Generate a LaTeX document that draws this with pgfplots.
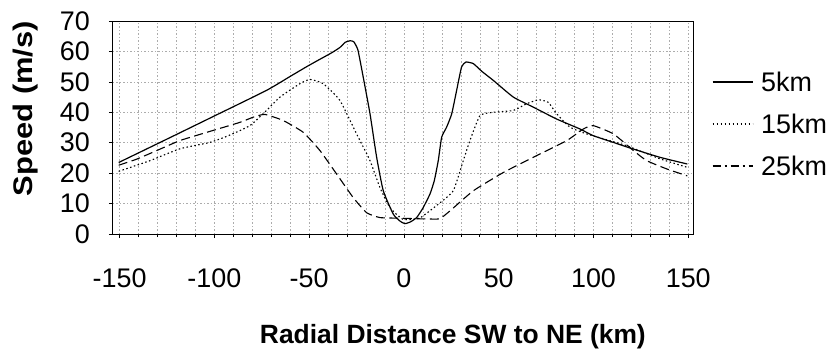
\documentclass[border=0pt]{standalone}
\usepackage{fontspec}
\setmainfont{Liberation Sans}
\usepackage{pgfplots}
\pgfplotsset{compat=1.18}
\usepackage{pgfplotstable}
\pgfplotstableread{
x y
-150.5 23.5
-125 31.2
-100 38.8
-72.5 47.2
-60 51.8
-51.3 55
-45 57.2
-38 59.6
-33.8 61.3
-31 63
-28.5 63.5
-26.5 63.2
-24.3 60.5
-21.5 51.6
-17.9 39.5
-14.4 25.2
-10.9 14.2
-5.6 6.5
-2 4.2
0.5 3.4
3.5 4
6.7 5.4
10 8.5
13.7 13.1
16 17.5
18.1 24.1
19.9 31.8
22.5 35.1
25.2 39.5
27.8 47.2
30.4 54.9
32.7 56.5
36.6 56
41 53.5
47.1 50.5
57.7 45
68.2 41.7
80.5 37.8
92.9 34.5
99.9 32.3
110.5 30.1
121.1 27.9
135.1 25.2
149.5 23
}\fivekm
\pgfplotstableread{
x y
-150.5 20.6
-134 24.1
-118.2 28
-102.4 30.1
-92.7 32.3
-81.3 35.6
-72.5 40.6
-65.4 45
-54.9 49.4
-49.6 50.8
-42.6 49.4
-33.8 43.9
-25 32.9
-17.9 24.1
-12.7 15.3
-7.4 8.7
-0.4 4.8
8.4 5.3
18.1 9.8
26 14.2
31.3 24.1
34.8 30.7
40.1 38.9
47.1 40
57.7 40.6
64.7 42.8
70.9 44.1
76.1 43.3
80.6 39.5
87.6 35.1
96.4 32.9
117.5 29
135.1 24.7
149.5 21.9
}\fifteenkm
\pgfplotstableread{
x y
-150.5 22.6
-141 24.6
-130.5 27.4
-118.2 30.7
-104.1 33.4
-86.5 36.7
-79.5 38.4
-73.4 39.3
-63.7 37.3
-53.1 33.4
-44.3 27.4
-35.5 19.7
-26.8 12
-19.7 7
-12.7 5.4
-2.1 5.2
8 5
17.3 4.9
19.5 5.2
24.3 7.6
36.6 14.2
52.4 20.2
68.2 25.2
85.9 30.7
94.6 34.5
99.9 35.6
110.5 32.9
121.1 27.4
128.1 24.1
138.6 21.4
149.5 19.1
}\twentyfivekm
\begin{document}
\begin{tikzpicture}
\path[use as bounding box] (-113bp,-117bp) rectangle (718bp,234bp);
\begin{axis}[
  at={(0bp,0bp)}, anchor=south west,
  scale only axis, width=580bp, height=213bp,
  xmin=-153.5, xmax=152.5, ymin=0, ymax=70,
  xtick={-150,-100,...,150}, minor x tick num=4,
  ytick={0,10,...,70},
  grid=both,
  major grid style={gray!65, line width=0.5bp, dash pattern=on 1.5bp off 2bp},
  minor grid style={gray!65, line width=0.5bp, dash pattern=on 1.5bp off 2bp},
  axis line style={black, line width=1bp},
  tick pos=left, tick align=outside,
  major tick length=4bp, minor tick length=3bp,
  tick style={black, line width=0.6bp},
  /pgf/number format/assume math mode=true,
  ticklabel style={font=\fontsize{27}{30}\selectfont, inner sep=0pt},
  xticklabel style={anchor=north, yshift=-31bp},
  yticklabel style={anchor=east, xshift=-19bp},
  xlabel={Radial Distance SW to NE (km)},
  ylabel={\scalebox{1.15}[1]{Speed (m/s)}},
  xlabel style={at={(axis description cs:0.586,-0.515)}, anchor=base, inner sep=0pt, font=\fontsize{26.5}{30}\bfseries},
  ylabel style={at={(axis description cs:-0.15,0.589)}, anchor=center, inner sep=0pt, font=\fontsize{27}{30}\bfseries},
  legend style={at={(axis description cs:1.0328,0.7606)}, anchor=north west, draw=none, fill=none,
    inner sep=0pt, outer sep=0pt, row sep=22bp, column sep=8bp,
    font=\fontsize{27}{30}\selectfont,
    nodes={inner sep=0pt, text height=20bp, text depth=0bp}},
  legend cell align=left,
  legend image code/.code={\draw[#1] (0bp,0bp) -- (40bp,0bp);},
]
\addplot[black, line width=1.2bp, smooth, tension=0.3] table {\fivekm};
\addlegendentry{5km}
\addplot[black, line width=1.1bp, smooth, tension=0.3, dash pattern=on 1.5bp off 2.5bp] table {\fifteenkm};
\addlegendentry{15km}
\addplot[black, line width=1.1bp, smooth, tension=0.3, dash pattern=on 9bp off 4.5bp,
  legend image code/.code={\draw[black, line width=1.1bp, dash pattern=on 8bp off 4bp on 2bp off 4bp] (0bp,0bp) -- (40bp,0bp);}] table {\twentyfivekm};
\addlegendentry{25km}
\end{axis}
\end{tikzpicture}
\end{document}
